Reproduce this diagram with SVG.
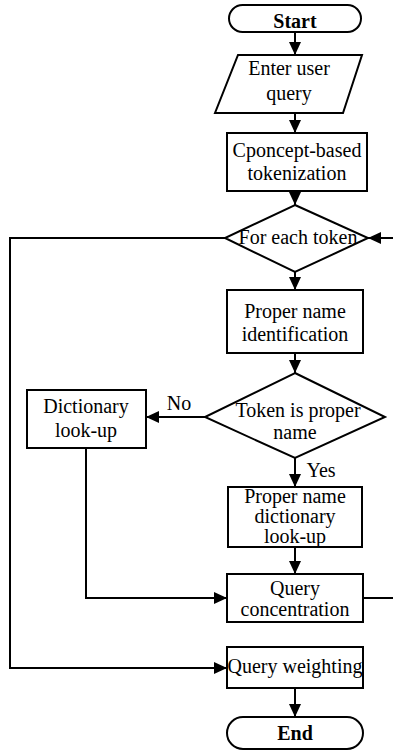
<svg xmlns="http://www.w3.org/2000/svg" width="393" height="751" viewBox="0 0 393 751">
<style>
.s{fill:#fff;stroke:#000;stroke-width:2}
.t{font-family:"Liberation Serif","Times New Roman",serif;font-size:20px;fill:#000;text-anchor:middle}
.b{font-weight:bold}
.c{fill:none;stroke:#000;stroke-width:2}
</style>
<defs>
<marker id="a" markerUnits="userSpaceOnUse" markerWidth="14" markerHeight="12" refX="13" refY="6" orient="auto">
<path d="M0,0 L13,6 L0,12 Z" fill="#000"/>
</marker>
</defs>
<g id="connectors">
<line class="c" x1="295" y1="32" x2="295" y2="55" marker-end="url(#a)"/>
<line class="c" x1="295" y1="113" x2="295" y2="133" marker-end="url(#a)"/>
<line class="c" x1="295" y1="191" x2="295" y2="205" marker-end="url(#a)"/>
<line class="c" x1="393" y1="238" x2="368" y2="238" marker-end="url(#a)"/>
<line class="c" x1="295" y1="272" x2="295" y2="290" marker-end="url(#a)"/>
<line class="c" x1="295" y1="353" x2="295" y2="373" marker-end="url(#a)"/>
<line class="c" x1="205" y1="417" x2="146" y2="417" marker-end="url(#a)"/>
<line class="c" x1="295" y1="458" x2="295" y2="487" marker-end="url(#a)"/>
<line class="c" x1="295" y1="547" x2="295" y2="574" marker-end="url(#a)"/>
<polyline class="c" points="86,448 86,598 227,598" marker-end="url(#a)"/>
<line class="c" x1="363" y1="598" x2="393" y2="598"/>
<polyline class="c" points="225,238 10,238 10,668 227,668" marker-end="url(#a)"/>
<line class="c" x1="295" y1="688" x2="295" y2="717" marker-end="url(#a)"/>
<text class="t" x="179" y="410">No</text>
<text class="t" x="321" y="477">Yes</text>
</g>
<g id="start">
<rect class="s" x="229" y="5" width="132" height="27" rx="13.5"/>
<text class="t b" x="295" y="28">Start</text>
</g>
<g id="enter">
<polygon class="s" points="238,55 362,55 343,113 215,113"/>
<text class="t" x="289" y="75">Enter user</text>
<text class="t" x="289" y="100">query</text>
</g>
<g id="tokenize">
<rect class="s" x="227" y="133" width="140" height="58"/>
<text class="t" x="297" y="157">Cponcept-based</text>
<text class="t" x="297" y="180">tokenization</text>
</g>
<g id="foreach">
<polygon class="s" points="295,205 368,238 295,272 225,238"/>
<text class="t" x="298" y="244">For each token</text>
</g>
<g id="pnid">
<rect class="s" x="227" y="290" width="136" height="63"/>
<text class="t" x="295" y="318">Proper name</text>
<text class="t" x="295" y="341">identification</text>
</g>
<g id="isproper">
<polygon class="s" points="295,373 385,417 295,458 205,417"/>
<text class="t" x="298" y="417">Token is proper</text>
<text class="t" x="295" y="439">name</text>
</g>
<g id="dict">
<rect class="s" x="27" y="390" width="119" height="58"/>
<text class="t" x="86" y="413">Dictionary</text>
<text class="t" x="86" y="437">look-up</text>
</g>
<g id="pndict">
<rect class="s" x="228" y="487" width="134" height="60"/>
<text class="t" x="295" y="503">Proper name</text>
<text class="t" x="295" y="523">dictionary</text>
<text class="t" x="295" y="543">look-up</text>
</g>
<g id="concat">
<rect class="s" x="227" y="574" width="136" height="48"/>
<text class="t" x="295" y="595">Query</text>
<text class="t" x="295" y="616">concentration</text>
</g>
<g id="weight">
<rect class="s" x="227" y="647" width="136" height="41"/>
<text class="t" x="295" y="673">Query weighting</text>
</g>
<g id="end">
<rect class="s" x="227" y="717" width="136" height="32" rx="16"/>
<text class="t b" x="295" y="740">End</text>
</g>
</svg>
